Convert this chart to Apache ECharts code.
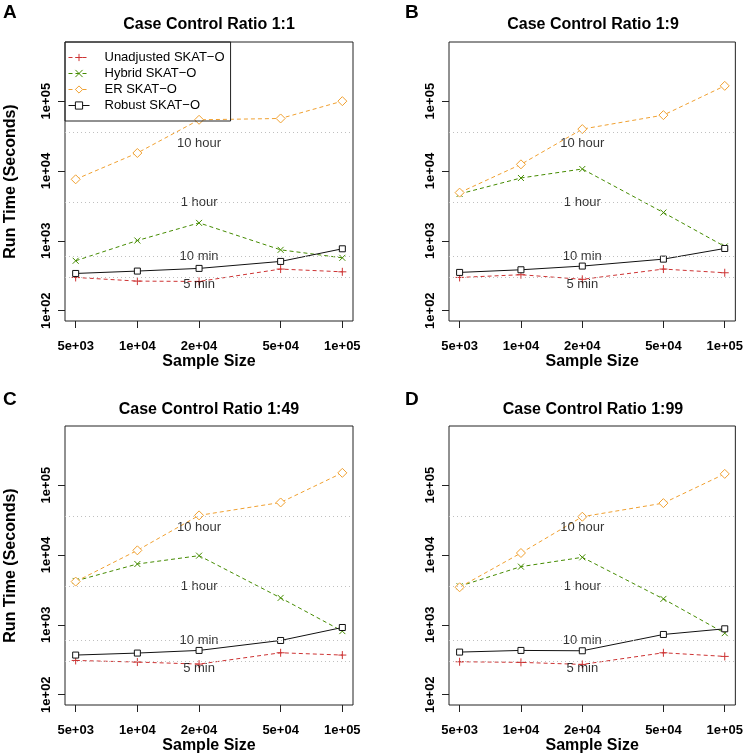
<!DOCTYPE html>
<html><head><meta charset="utf-8">
<script src="https://cdn.jsdelivr.net/npm/echarts@6/dist/echarts.min.js"></script>
<style>html,body{margin:0;padding:0;background:#fff}#c{width:746px;height:756px}</style>
</head><body><div id="c"></div>
<script>
// ---- data ----
const sampleSizes = [5000, 10000, 20000, 50000, 100000];
const xTickLabels = ['5e+03', '1e+04', '2e+04', '5e+04', '1e+05'];
const yTicks = [100, 1000, 10000, 100000];
const yTickLabels = ['1e+02', '1e+03', '1e+04', '1e+05'];
const panelTitles = ['Case Control Ratio 1:1', 'Case Control Ratio 1:9', 'Case Control Ratio 1:49', 'Case Control Ratio 1:99'];
const panelLetters = ['A', 'B', 'C', 'D'];
const seriesNames = ['Unadjusted SKAT\u2212O', 'Hybrid SKAT\u2212O', 'ER SKAT\u2212O', 'Robust SKAT\u2212O'];
const refSeconds = [300, 600, 3600, 36000];
const refLabels = ['5 min', '10 min', '1 hour', '10 hour'];
const refLabelX = 20000;

const unadjA = [299, 265, 262, 394, 360];
const hybridA = [518, 1010, 1807, 743, 571];
const erA = [7600, 18100, 54100, 56500, 100000];
const robustA = [341, 369, 403, 507, 769];

const unadjB = [299, 327, 281, 394, 349];
const hybridB = [4690, 7940, 10680, 2540, 830];
const erB = [4900, 12450, 39800, 63100, 165600];
const robustB = [353, 385, 435, 547, 777];

const unadjC = [309, 293, 274, 398, 369];
const hybridC = [4250, 7430, 9780, 2430, 813];
const erC = [4160, 11660, 36900, 56500, 150000];
const robustC = [369, 394, 430, 597, 916];

const unadjD = [296, 290, 271, 398, 353];
const hybridD = [3570, 6810, 9260, 2350, 760];
const erD = [3450, 10680, 35300, 55300, 145000];
const robustD = [407, 430, 425, 728, 877];

const panelData = [
  [unadjA, hybridA, erA, robustA],
  [unadjB, hybridB, erB, robustB],
  [unadjC, hybridC, erC, robustC],
  [unadjD, hybridD, erD, robustD]
];

// ---- styles / layout ----
const FONT = '"Liberation Sans", Arial, Helvetica, sans-serif';
const colors = ['#cd3333', '#458b00', '#f0a030', '#111111'];
const symbols = ['path://M0,5L10,5M5,0L5,10', 'path://M0,0L10,10M10,0L0,10', 'path://M5,0L10,5L5,10L0,5Z', 'path://M0,0L10,0L10,10L0,10Z'];
const symbolFills = [null, null, '#fff', '#fff'];
const symbolSizes = [8, 6, 9, 6];
const lineTypes = [[4, 3], [4, 3], [4, 3], 'solid'];
const grids = [
  {left: 65, top: 42, width: 288, height: 279},
  {left: 449, top: 42, width: 288, height: 279},
  {left: 65, top: 426, width: 288, height: 279},
  {left: 449, top: 426, width: 288, height: 279}
];
const labelOffsets = {'5 min': 7, '10 min': 0, '1 hour': 0, '10 hour': 11};

function padLog(lo, hi) {
  const a = Math.log10(lo), b = Math.log10(hi), p = (b - a) * 0.04;
  return [Math.pow(10, a - p), Math.pow(10, b + p)];
}
const xr = padLog(sampleSizes[0], sampleSizes[sampleSizes.length - 1]);
const yr = padLog(100, 500000);

const option = {
  animation: false,
  textStyle: {fontFamily: FONT},
  grid: grids.map(g => Object.assign({show: true, borderColor: '#222', borderWidth: 1, backgroundColor: 'transparent'}, g)),
  xAxis: grids.map((g, i) => ({
    type: 'log', gridIndex: i, min: xr[0], max: xr[1],
    axisLine: {show: false},
    splitLine: {show: false},
    axisTick: {show: true, length: 7, lineStyle: {color: '#222'}, customValues: sampleSizes},
    axisLabel: {
      customValues: sampleSizes, margin: 19, color: '#000', fontWeight: 'bold', fontSize: 13, fontFamily: FONT,
      formatter: v => { const k = sampleSizes.findIndex(s => Math.abs(s - v) / s < 1e-6); return k >= 0 ? xTickLabels[k] : ''; }
    },
    name: 'Sample Size', nameLocation: 'middle', nameGap: 33,
    nameTextStyle: {fontWeight: 'bold', fontSize: 16, color: '#000', fontFamily: FONT}
  })),
  yAxis: grids.map((g, i) => ({
    type: 'log', gridIndex: i, min: yr[0], max: yr[1],
    axisLine: {show: false},
    splitLine: {show: false},
    axisTick: {show: true, length: 7, lineStyle: {color: '#222'}, customValues: yTicks},
    axisLabel: {
      customValues: yTicks, rotate: 90, margin: 12, color: '#000', fontWeight: 'bold', fontSize: 13, fontFamily: FONT,
      formatter: v => { const k = yTicks.findIndex(s => Math.abs(s - v) / s < 1e-6); return k >= 0 ? yTickLabels[k] : ''; }
    },
    name: (i % 2 === 0) ? 'Run Time (Seconds)' : '', nameLocation: 'middle', nameGap: 46,
    nameTextStyle: {fontWeight: 'bold', fontSize: 16, color: '#000', fontFamily: FONT}
  })),
  legend: {
    orient: 'vertical', left: 65, top: 42, padding: [9, 6, 9, 3],
    backgroundColor: 'transparent', borderColor: '#222', borderWidth: 1,
    itemWidth: 21, itemHeight: 9, itemGap: 3, selectedMode: false,
    itemStyle: {borderWidth: 1},
    lineStyle: {width: 1},
    textStyle: {fontSize: 13, color: '#000', fontFamily: FONT, padding: [0, 0, 0, 10]},
    data: seriesNames
  },
  graphic: [],
  series: []
};

grids.forEach((g, i) => {
  option.graphic.push({type: 'text', x: g.left + g.width / 2, y: (i < 2 ? 25 : 409.7), z: 10,
    style: {text: panelTitles[i], font: 'bold 16px ' + FONT, fill: '#000', textAlign: 'center', textVerticalAlign: 'middle'}});
  option.graphic.push({type: 'text', left: (i % 2 === 0 ? 3 : 405), top: (i < 2 ? 3 : 390), z: 10,
    style: {text: panelLetters[i], font: 'bold 19px ' + FONT, fill: '#000'}});

  // reference lines
  option.series.push({
    type: 'line', xAxisIndex: i, yAxisIndex: i, data: [], silent: true,
    markLine: {silent: true, symbol: 'none', label: {show: false},
      lineStyle: {color: '#c0c0c0', type: [1, 3], width: 1},
      data: refSeconds.map(v => ({yAxis: v}))}
  });
  panelData[i].forEach((vals, s) => {
    option.series.push({
      type: 'line', name: seriesNames[s], xAxisIndex: i, yAxisIndex: i,
      data: sampleSizes.map((x, k) => [x, vals[k]]),
      symbol: symbols[s], symbolSize: symbolSizes[s], showSymbol: true,
      itemStyle: {color: symbolFills[s] || colors[s], borderColor: colors[s], borderWidth: 1},
      lineStyle: {color: colors[s], width: 1, type: lineTypes[s]},
      z: 3
    });
  });
  // reference labels
  option.series.push({
    type: 'scatter', xAxisIndex: i, yAxisIndex: i, silent: true, symbolSize: 1,
    itemStyle: {color: 'rgba(0,0,0,0)'}, z: 4,
    data: refSeconds.map((v, k) => ({value: [refLabelX, v], name: refLabels[k],
      label: {show: true, position: 'inside', formatter: refLabels[k], offset: [0, labelOffsets[refLabels[k]]],
        color: '#000', fontSize: 13, fontFamily: FONT}}))
  });
});

const chart = echarts.init(document.getElementById('c'), null, {renderer: 'canvas'});
chart.setOption(option);
</script></body></html>
